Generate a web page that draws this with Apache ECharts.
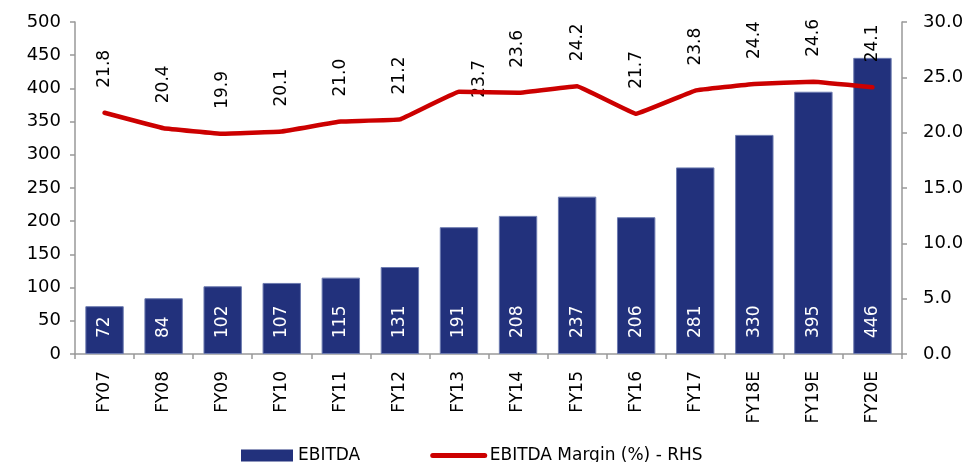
<!DOCTYPE html>
<html>
<head>
<meta charset="utf-8">
<script src="https://cdn.jsdelivr.net/npm/echarts@6/dist/echarts.min.js"></script>
<style>
  html, body { margin: 0; padding: 0; background: #fff; }
  #chart { width: 970px; height: 462px; }
</style>
</head>
<body>
<div id="chart"></div>
<script>
// 数据
var years = ['FY07', 'FY08', 'FY09', 'FY10', 'FY11', 'FY12', 'FY13', 'FY14', 'FY15', 'FY16', 'FY17', 'FY18E', 'FY19E', 'FY20E'];
var ebitda = [72, 84, 102, 107, 115, 131, 191, 208, 237, 206, 281, 330, 395, 446];
var margin = [21.8, 20.4, 19.9, 20.1, 21.0, 21.2, 23.7, 23.6, 24.2, 21.7, 23.8, 24.4, 24.6, 24.1];

var font = 'DejaVu Sans';
var chart = echarts.init(document.getElementById('chart'));

// 23.7 的标签位置偏移（原图如此），offset 在旋转后的坐标系里
var marginLabels = margin.map(function (v, i) {
  if (i === 6) return { value: v, label: { offset: [-31, 21] } };
  return v;
});

var option = {
  animation: false,
  textStyle: { fontFamily: font },
  grid: { left: 75, right: 68, top: 22, bottom: 108 },
  legend: {
    left: 236,
    top: 442,
    itemWidth: 52,
    itemHeight: 12,
    itemGap: 70,
    textStyle: { fontSize: 17, color: '#000', fontFamily: font },
    data: [
      { name: 'EBITDA', icon: 'rect', itemStyle: { borderWidth: 0 } },
      { name: 'EBITDA Margin (%) - RHS', itemStyle: { opacity: 0 }, lineStyle: { width: 5 } }
    ]
  },
  xAxis: {
    type: 'category',
    data: years,
    axisLine: { lineStyle: { color: '#999', width: 1.5 } },
    axisTick: { show: true, length: 5, lineStyle: { color: '#999', width: 1.5 } },
    axisLabel: { rotate: 90, fontSize: 17, color: '#000', margin: 17, fontFamily: font }
  },
  yAxis: [{
    type: 'value',
    min: 0, max: 500, interval: 50,
    axisLine: { show: true, lineStyle: { color: '#999', width: 1.5 } },
    axisTick: { show: true, length: 5, lineStyle: { color: '#999', width: 1.5 } },
    splitLine: { show: false },
    axisLabel: { fontSize: 18, color: '#000', margin: 14, fontFamily: font }
  }, {
    type: 'value',
    min: 0, max: 30, interval: 5,
    position: 'right',
    axisLine: { show: true, lineStyle: { color: '#999', width: 1.5 } },
    axisTick: { show: true, length: 5, lineStyle: { color: '#999', width: 1.5 } },
    splitLine: { show: false },
    axisLabel: {
      fontSize: 18, color: '#000', margin: 21, fontFamily: font,
      formatter: function (v) { return v.toFixed(1); }
    }
  }],
  series: [{
    name: 'EBITDA',
    type: 'bar',
    data: ebitda,
    barCategoryGap: '35%',
    itemStyle: { color: '#22317c', borderColor: '#6d7bb0', borderWidth: 1 },
    label: {
      show: true,
      position: 'insideBottom',
      rotate: 90,
      align: 'left',
      verticalAlign: 'middle',
      distance: 16,
      color: '#fff',
      fontSize: 17,
      fontFamily: font
    }
  }, {
    name: 'EBITDA Margin (%) - RHS',
    type: 'line',
    yAxisIndex: 1,
    data: margin,
    smooth: 0.05,
    symbol: 'none',
    lineStyle: { color: '#cc0000', width: 4.5, join: 'round', cap: 'round' },
    itemStyle: { color: '#cc0000' }
  }, {
    // 折线数据标签
    name: 'marginLabel',
    type: 'scatter',
    yAxisIndex: 1,
    data: marginLabels,
    symbolSize: 0,
    silent: true,
    label: {
      show: true,
      position: 'top',
      rotate: 90,
      align: 'left',
      verticalAlign: 'middle',
      distance: 25,
      color: '#000',
      opacity: 1,
      fontSize: 17,
      fontFamily: font,
      formatter: function (p) { return p.value.toFixed(1); }
    }
  }]
};
chart.setOption(option);
</script>
</body>
</html>
